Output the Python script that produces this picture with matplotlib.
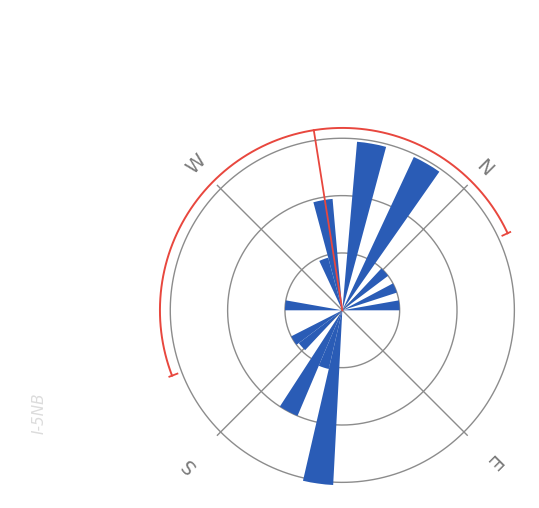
import numpy as np
import matplotlib
matplotlib.use('Agg')
from matplotlib import pyplot as plt

# rose diagram, azimuth classes (deg, compass) and class lengths (ring units)
azimuth = [295, 305, 325, 345, 3, 22, 40, 143, 153, 163, 183, 193, 230]
length = [0.95, 1.95, 2.95, 2.95, 1.0, 1.0, 1.0, 3.05, 1.05, 2.0, 0.95, 1.0, 1.0]
class_width = 10

rings = [1, 2, 3]
compass_dirs = [0, 90, 180, 270]
compass_labels = ['N', 'E', 'S', 'W']
label_r = [3.5, 3.72, 3.8, 3.6]

mean_dir = 306
arc_from = 204
arc_to = 380
arc_r = 3.18

blue = '#2a5cb6'
red = '#e8473e'
grey = '#8c8c8c'

fig = plt.figure(figsize=(5.39, 5.08), dpi=100)
ax = fig.add_axes([0.2733, 0.0053, 0.7236, 0.7677], projection='polar')
ax.set_theta_direction(-1)
ax.set_theta_offset(np.radians(45))
ax.set_ylim(0, 3.4)
ax.grid(False)
ax.set_xticks([])
ax.set_yticks([])
ax.spines['polar'].set_visible(False)
ax.patch.set_alpha(0)

###rings and axis lines
t = np.linspace(0, 2*np.pi, 400)
for r in rings:
	ax.plot(t, [r]*len(t), color=grey, lw=1.0, zorder=1)
for d in compass_dirs:
	ax.plot([np.radians(d)]*2, [0, 3.08], color=grey, lw=1.0, zorder=1)

###bars
ax.bar(np.radians(azimuth), length, width=np.radians(class_width), bottom=0,
	color=blue, edgecolor='none', linewidth=0, zorder=2)

###mean direction and spread arc
ax.plot([np.radians(mean_dir)]*2, [0, arc_r], color=red, lw=1.3, zorder=3)
ta = np.radians(np.linspace(arc_from, arc_to, 200))
ax.plot(ta, [arc_r]*len(ta), color=red, lw=1.4, zorder=3)
for d in [arc_from, arc_to]:
	ax.plot([np.radians(d)]*2, [arc_r-0.1, arc_r+0.05], color=red, lw=1.3, zorder=3)

###compass letters, tops pointing outward
for d, lab, lr in zip(compass_dirs, compass_labels, label_r):
	ax.text(np.radians(d), lr, lab, color='#7a7a7a', fontsize=14,
		rotation=-45-d, rotation_mode='anchor', ha='center', va='center')

fig.text(0.072, 0.187, 'I-5NB', color='#dcdcdc', fontsize=11, style='italic',
	rotation=90, ha='center', va='center')

plt.savefig('out.png', dpi=100)
plt.close()
